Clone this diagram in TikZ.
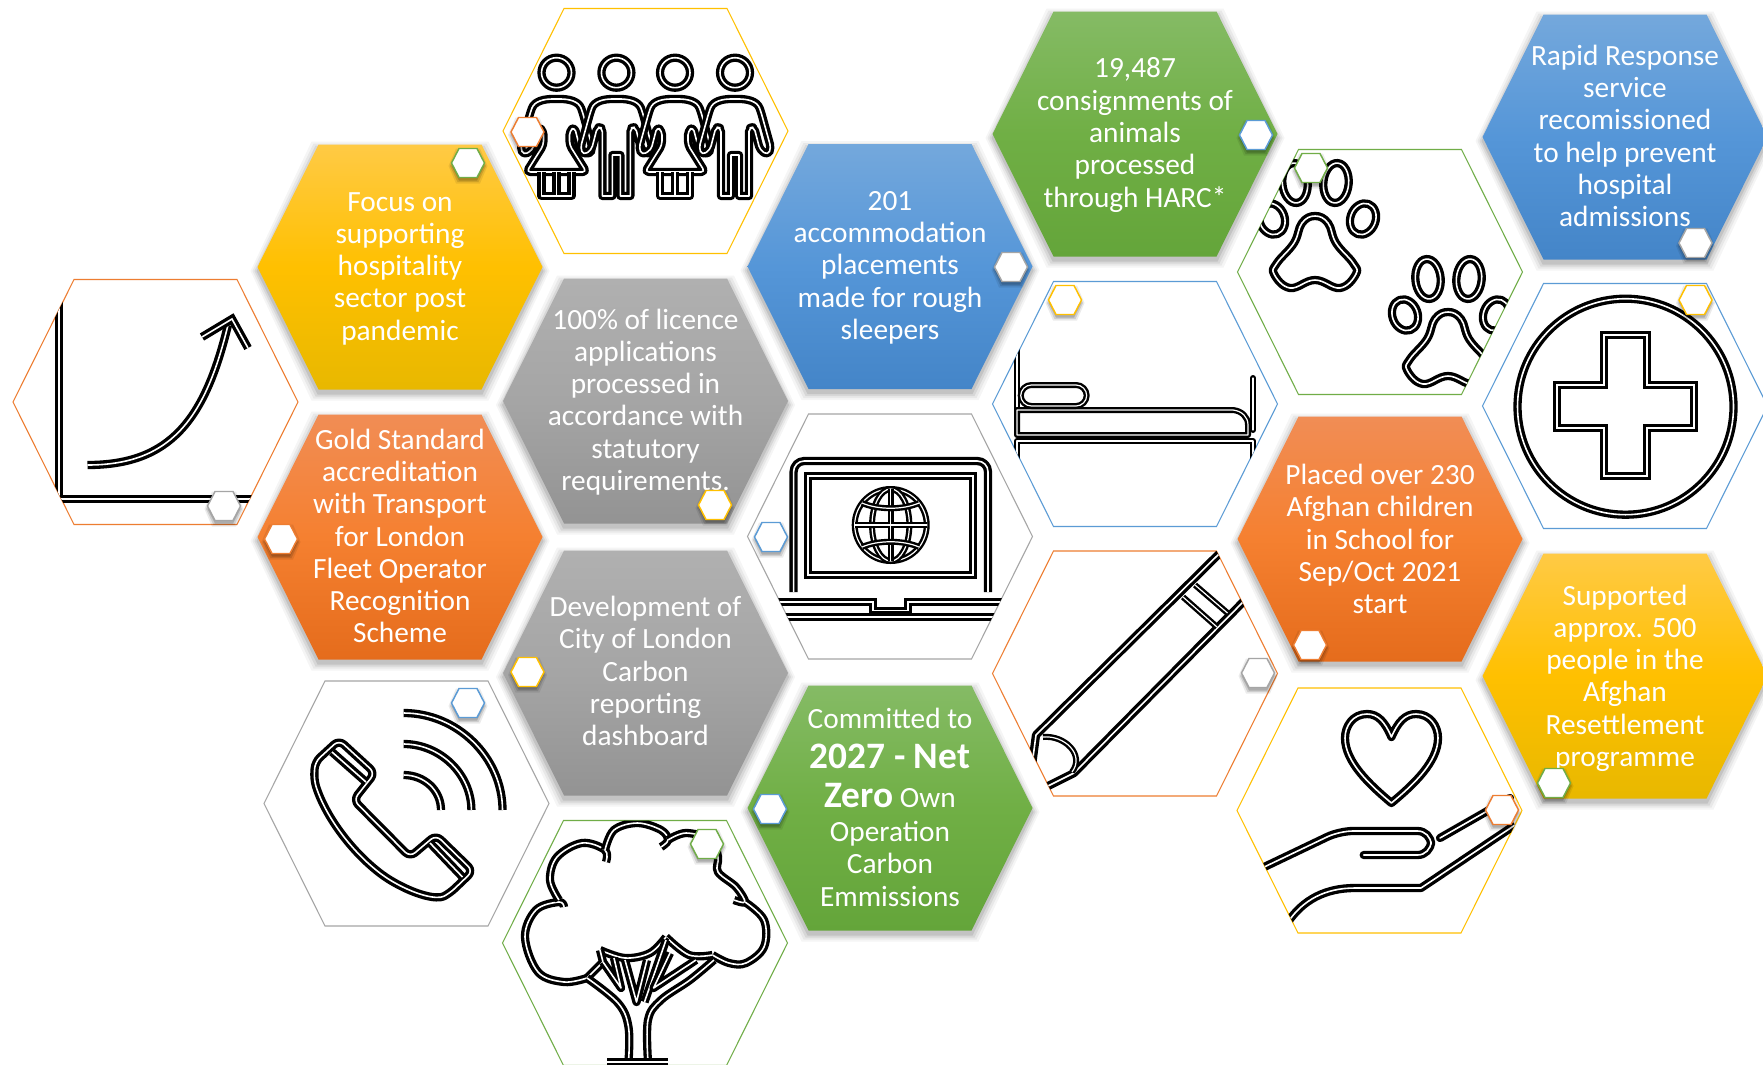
\documentclass[tikz,border=0pt]{standalone}
\usepackage{fontspec}
\setmainfont{Carlito}
\usetikzlibrary{calc}
\definecolor{yelC}{HTML}{FFC000}\definecolor{yelT}{HTML}{FFCA45}\definecolor{yelB}{HTML}{E8B800}
\definecolor{oraC}{HTML}{ED7D31}\definecolor{oraT}{HTML}{F18D55}\definecolor{oraM}{HTML}{F58030}\definecolor{oraB}{HTML}{E56C1C}
\definecolor{greC}{HTML}{A5A5A5}\definecolor{greT}{HTML}{B0B0B0}\definecolor{greB}{HTML}{939393}
\definecolor{bluC}{HTML}{5B9BD5}\definecolor{bluT}{HTML}{74A8DC}\definecolor{bluM}{HTML}{5596D8}\definecolor{bluB}{HTML}{4485C8}
\definecolor{grnC}{HTML}{70AD47}\definecolor{grnT}{HTML}{85BB65}\definecolor{grnM}{HTML}{70AF45}\definecolor{grnB}{HTML}{64A53A}
\newcommand\hexshape[5]{({#1-(#3)},{#2}) -- ({#1-(#3)+#5},{#2-(#4)}) -- ({#1+(#3)-#5},{#2-(#4)}) -- ({#1+(#3)},{#2}) -- ({#1+(#3)-#5},{#2+(#4)}) -- ({#1-(#3)+#5},{#2+(#4)}) -- cycle}
\newcommand\bighex[2]{\hexshape{#1}{#2}{142.5}{122.5}{61}}
\newcommand\solidhex[3]{%
  \foreach \g/\o in {7/.04,5/.05,3/.07,1/.09}{\fill[black,opacity=\o] \hexshape{#1}{#2+4}{142.5+\g}{122.5+\g}{61};}%
  \shade[#3] \bighex{#1}{#2};}
\newcommand\smallhex[3]{%
  \foreach \g/\o in {3/.08,1.5/.12,0/.16}{\fill[black,opacity=\o] \hexshape{#1}{#2+3}{16.5+\g}{14.5+\g}{7.5};}%
  \fill[white,draw=#3,line width=1.1pt] \hexshape{#1}{#2}{16.5}{14.5}{7.5};}
\newcommand\femalefig[1]{%
  \begin{scope}[shift={(#1,0)}]
   \draw[icon] (0,72.7) circle [radius=11.25pt];
   \draw[icon,rounded corners=3pt] (-30,172) -- (-13,145) -- (-13,131) -- (-18,127) -- (-24,150) -- (-33,155) -- (-36,148) -- (-26,112) .. controls (-22,101) and (-12,99) .. (0,99) .. controls (12,99) and (22,101) .. (26,112) -- (36,148) -- (33,155) -- (24,150) -- (18,127) -- (13,131) -- (13,145) -- (30,172) -- cycle;
   \draw[icon] (-15,172) -- (-15,196) -- (15,196) -- (15,172) (0,172) -- (0,196);
  \end{scope}}
\newcommand\malefig[1]{%
  \begin{scope}[shift={(#1,0)}]
   \draw[icon] (0,72.7) circle [radius=11.25pt];
   \draw[icon] (-14,196) -- (-14,135) [rounded corners=3pt] -- (-14,128) -- (-19,127) -- (-25,150) -- (-33,155) -- (-36,148) -- (-26,112) .. controls (-22,101) and (-12,99) .. (0,99) .. controls (12,99) and (22,101) .. (26,112) -- (36,148) -- (33,155) -- (25,150) -- (19,127) -- (14,128) -- (14,135) [sharp corners] -- (14,196) -- (4,196) -- (4,155) -- (-4,155) -- (-4,196) -- cycle;
  \end{scope}}
\newcommand\pawprint[2]{%
  \begin{scope}[shift={(#1,#2)}]
   \draw[icon] plot[smooth cycle,tension=.7] coordinates {(1315,216) (1328,223) (1336,243) (1353,263) (1356,274) (1340,288) (1315,280) (1290,288) (1274,274) (1277,263) (1294,243) (1302,223)};
   \draw[icon,rotate around={5:(1295,183)}] (1295,183) ellipse [x radius=9.5pt,y radius=15pt];
   \draw[icon,rotate around={-5:(1336,183)}] (1336,183) ellipse [x radius=9.5pt,y radius=15pt];
   \draw[icon,rotate around={-20:(1363,219)}] (1363,219) ellipse [x radius=9.5pt,y radius=12pt];
   \draw[icon,rotate around={20:(1272,219)}] (1272,219) ellipse [x radius=9.5pt,y radius=12pt];
  \end{scope}}
\tikzset{
  icon/.style={draw=black,line width=2.5pt,double=white,double distance=1.2pt,line join=round},
  thinicon/.style={draw=black,line width=1.8pt,double=white,double distance=.9pt,line join=round},
  hextext/.style={text=white,align=center,font=\fontsize{22}{24.2}\selectfont,inner sep=0pt},
  yelfill/.style={top color=yelT,bottom color=yelB,middle color=yelC},
  orafill/.style={top color=oraT,bottom color=oraB,middle color=oraM},
  grefill/.style={top color=greT,bottom color=greB,middle color=greC},
  blufill/.style={top color=bluT,bottom color=bluB,middle color=bluM},
  grnfill/.style={top color=grnT,bottom color=grnB,middle color=grnM},
  outlinehex/.style={fill=white,draw=#1,line width=.8pt,line join=miter}
}
\begin{document}
\begin{tikzpicture}[x=.75pt,y=-.75pt]
\useasboundingbox (0,0) rectangle (1763,1064);
\fill[white] (0,0) rectangle (1763,1064);

% outlined hexagons with icons
\path[outlinehex=oraC] \bighex{155.5}{402};
\begin{scope}
 \clip \bighex{155.5}{402};
 \draw[icon,line join=miter] (59,290) -- (59,499) -- (280,499);
 \draw[icon] (87.5,465) .. controls (170,465) and (205,420) .. (228,325);
 \draw[icon,line join=miter] (202,337) -- (232,319) -- (248,348);
\end{scope}

\path[outlinehex=yelC] \bighex{645.5}{131};
\femalefig{556.5}\malefig{616.4}\femalefig{675}\malefig{735}

\path[outlinehex=greC] \bighex{406.5}{803.5};
\draw[icon,rounded corners=5pt] (339,740) -- (375,773) -- (353.5,800) -- (410,857) -- (436,835) -- (473,871) -- (450,893) .. controls (437,900) and (415,895) .. (385,877) .. controls (350,850) and (325,815) .. (314,780) -- (315,762) -- cycle;
\draw[icon] (332,752) -- (366,782) (430,843) -- (462.5,877);
\draw[icon] (403.6,713) .. controls (457,713) and (502.5,757) .. (502.5,810);
\draw[icon] (403.6,744) .. controls (440,744) and (471.4,774) .. (471.4,810);
\draw[icon] (403.6,775) .. controls (424,775) and (441,790) .. (441,810);

\path[outlinehex=grnC] \bighex{645}{943};
\begin{scope}
 \clip \bighex{645}{943};
 \draw[icon] plot[smooth,tension=.6] coordinates {(587,978) (564,982) (538,972) (525,937) (536,910) (559,902) (564,907)};
 \draw[icon] plot[smooth,tension=.6] coordinates {(559,900) (550,880) (557,857) (582,843) (605,850) (606,862)};
 \draw[icon] plot[smooth,tension=.6] coordinates {(605,850) (614,830) (637.5,823) (661,830) (668,840) (661,847)};
 \draw[icon] plot[smooth,tension=.6] coordinates {(668,840) (686,833) (711,840) (718,857) (718,872) (736,887) (745,902) (734,900)};
 \draw[icon] plot[smooth,tension=.6] coordinates {(745,902) (764,920) (764,947) (746,963) (729,963) (712.5,955)};
 \draw[icon] plot[smooth,tension=.6] coordinates {(712.5,955) (689,955) (666,937)};
 \draw[icon] plot[smooth,tension=.6] coordinates {(666,937) (650,953) (625,958) (600,950)};
 \draw[icon] (600,950) -- (603,962) -- (587,978);
 \draw[icon] plot[smooth,tension=.6] coordinates {(587,978) (618,1003) (628.5,1027) (628.5,1062)};
 \draw[icon] plot[smooth,tension=.6] coordinates {(714,960) (690,980) (661,1000) (648,1020) (648,1062)};
 \draw[icon] (607,1062) -- (668,1062);
 \draw[icon] (603,962) -- (621,988) -- (614,958);
 \draw[icon] (625,960) -- (636.5,1002) -- (647,960);
 \draw[icon] (666,940) -- (644.5,1002);
 \draw[icon] (670,953) -- (653.6,988) -- (696,960);
\end{scope}

\path[outlinehex=greC] \bighex{890}{536.5};
\begin{scope}
 \clip \bighex{890}{536.5};
 \draw[icon,rounded corners=8pt] (793.6,592) -- (793.6,461) -- (988,461) -- (988,592);
 \draw[icon,line join=miter] (808,476) rectangle (973,575);
 \draw[thinicon] (890.7,525) circle [radius=27pt];
 \draw[thinicon] (890.7,525) ellipse [x radius=14pt,y radius=27pt];
 \draw[thinicon] (890.7,489) -- (890.7,561) (855,525) -- (927,525);
 \draw[thinicon] (862,503) .. controls (878,510) and (903,510) .. (919,503);
 \draw[thinicon] (862,547) .. controls (878,540) and (903,540) .. (919,547);
 \draw[icon,line join=miter] (770,602) -- (873,602) -- (873,611) -- (908,611) -- (908,602) -- (1010,602);
 \draw[line width=3pt,black] (872,613) -- (909,613);
 \draw[icon] (770,617) -- (1010,617);
\end{scope}

\path[outlinehex=bluC] \bighex{1135}{404};
\begin{scope}
 \clip \bighex{1135}{404};
 \draw[thinicon] (1017,345) -- (1017,410);
 \draw[thinicon] (1017,410) -- (1233,410) .. controls (1242,411) and (1248,417) .. (1248,425) -- (1248,435) -- (1017,435) -- cycle;
 \draw[thinicon,rounded corners=8pt] (1020.7,385) rectangle (1086.7,406);
 \draw[thinicon,line cap=round] (1253,430) -- (1253,378);
 \draw[thinicon] (1017,490) -- (1017,441) -- (1253,441) -- (1253,490);
\end{scope}

\path[outlinehex=oraC] \bighex{1135}{673.5};
\begin{scope}
 \clip \bighex{1135}{673.5};
 \draw[icon] (1230,543) -- (1036,735) -- (1032,765) -- (1042,790);
 \draw[icon] (1040,790) -- (1074,773) -- (1245,600);
 \draw[thinicon] (1043,737) .. controls (1065,735) and (1085,755) .. (1072,772);
 \draw[thinicon] (1183,597) -- (1217,627) (1195,585) -- (1227.5,613);
\end{scope}

\path[outlinehex=grnC] \bighex{1380}{272};
\begin{scope}
 \clip \bighex{1380}{272};
 \pawprint{0}{0}
 \pawprint{133}{96}
\end{scope}

\path[outlinehex=bluC] \bighex{1625}{406};
\draw[icon] (1625.5,406.7) circle [radius=81pt];
\draw[icon,line join=miter] (1604,335) -- (1647,335) -- (1647,385) -- (1694,385) -- (1694,428) -- (1647,428) -- (1647,476) -- (1604,476) -- (1604,428) -- (1557,428) -- (1557,385) -- (1604,385) -- cycle;

\path[outlinehex=yelC] \bighex{1379.5}{810.5};
\begin{scope}
 \clip \bighex{1379.5}{810.5};
 \draw[icon] (1391.4,737) .. controls (1385,722) and (1378,714) .. (1367,714) .. controls (1353,714) and (1345,726) .. (1345,738) .. controls (1345,762) and (1370,785) .. (1391.4,803) .. controls (1413,785) and (1438,762) .. (1438,738) .. controls (1438,726) and (1430,714) .. (1416,714) .. controls (1405,714) and (1398,722) .. (1391.4,737) -- cycle;
 \draw[icon,line cap=round,rounded corners=10pt] (1260,869) -- (1339.5,831) -- (1431,831) -- (1431,855) -- (1363.7,855);
 \draw[icon,line cap=round] (1440,838) -- (1510,798);
 \draw[icon] (1288,922) .. controls (1303,900) and (1325,888) .. (1355,888) -- (1421,888) -- (1515,825);
\end{scope}

% filled hexagons
\solidhex{400}{267}{yelfill}
\solidhex{400}{537}{orafill}
\solidhex{645.5}{401}{grefill}
\solidhex{645.5}{673}{grefill}
\solidhex{890}{266.5}{blufill}
\solidhex{890}{808}{grnfill}
\solidhex{1135}{134}{grnfill}
\solidhex{1380}{539}{orafill}
\solidhex{1625}{137}{blufill}
\solidhex{1625}{676}{yelfill}

% texts
\node[hextext] (focus) at (400,268.5) {Focus on\\supporting\\hospitality\\sector post\\pandemic};
\node[hextext] (gold) at (400,536) {Gold Standard\\accreditation\\with Transport\\for London\\Fleet Operator\\Recognition\\Scheme};
\node[hextext] (licence) at (645.5,402) {100\% of licence\\applications\\processed in\\accordance with\\statutory\\requirements.};
\node[hextext] (carbon) at (645.5,671) {Development of\\City of London\\Carbon\\reporting\\dashboard};
\node[hextext] (rough) at (890,267.7) {201\\accommodation\\placements\\made for rough\\sleepers};
\node[hextext] (netzero) at (890,807) {Committed to\\[6pt]{\fontsize{28}{28}\selectfont\bfseries 2027 - Net}\\[5pt]{\fontsize{28}{28}\selectfont\bfseries Zero} Own\\[1.5pt]Operation\\Carbon\\Emmissions};
\node[hextext] (harc) at (1135,135) {19,487\\consignments of\\animals\\processed\\through HARC*};
\node[hextext] (school) at (1380,539) {Placed over 230\\Afghan children\\in School for\\Sep/Oct 2021\\start};
\node[hextext] (rapid) at (1625,136) {Rapid Response\\service\\recomissioned\\to help prevent\\hospital\\admissions};
\node[hextext] (afghan) at (1625,678) {Supported\\approx. 500\\people in the\\Afghan\\Resettlement\\programme};

% small hexagons
\smallhex{224}{506}{greC}
\smallhex{468}{163}{grnC}
\smallhex{281}{539}{oraC}
\smallhex{527.5}{132}{oraC}
\smallhex{715}{505}{yelC}
\smallhex{1011}{267}{greC}
\smallhex{1256}{135}{bluC}
\smallhex{1311}{168}{grnC}
\smallhex{1695.5}{243}{greC}
\smallhex{1695.5}{300}{yelC}
\smallhex{1065}{300}{yelC}
\smallhex{771}{537}{bluC}
\smallhex{1258}{673}{greC}
\smallhex{1310}{645}{oraC}
\smallhex{527.5}{672}{yelC}
\smallhex{468}{703}{bluC}
\smallhex{707}{844}{grnC}
\smallhex{770}{809}{bluC}
\smallhex{1502}{810}{oraC}
\smallhex{1554}{783}{grnC}
\end{tikzpicture}
\end{document}
